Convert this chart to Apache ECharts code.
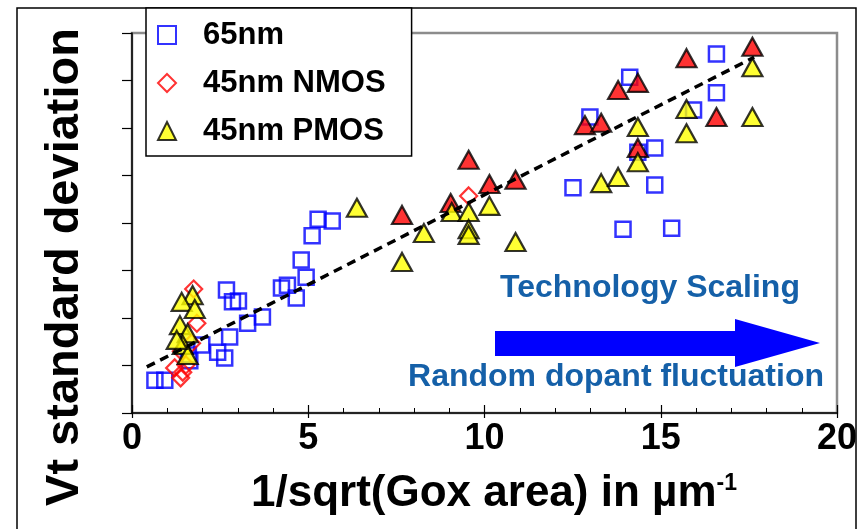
<!DOCTYPE html>
<html>
<head>
<meta charset="utf-8">
<script src="https://cdn.jsdelivr.net/npm/echarts@6/dist/echarts.min.js"></script>
<style>
  html, body { margin: 0; padding: 0; background: #fff; }
  #chart { width: 863px; height: 529px; }
</style>
</head>
<body>
<div id="chart"></div>
<script>
// values: [1/sqrt(area), sigma Vt (arbitrary units, 8 tick steps)]
const nm65 = [
  [0.65, 0.69], [0.93, 0.69], [1.64, 1.1], [1.6, 1.22], [1.98, 1.43], [2.43, 1.28], [2.63, 1.16],
  [2.77, 1.6], [2.68, 2.59], [2.85, 2.34], [3.02, 2.36], [3.28, 1.89], [3.7, 2.02],
  [4.24, 2.63], [4.41, 2.69], [4.66, 2.42], [4.94, 2.86], [4.8, 3.22], [5.11, 3.73],
  [5.28, 4.08], [5.68, 4.04], [12.51, 4.74], [13.93, 3.87], [15.31, 3.89], [14.83, 4.8],
  [14.35, 5.49], [14.83, 5.58], [12.99, 6.23], [14.12, 7.07], [16.58, 7.56], [16.58, 6.74],
  [15.93, 6.38]
];
const nmos45 = [
  [1.75, 2.61], [1.84, 1.89], [1.44, 0.86], [1.38, 0.74], [1.53, 1.01], [1.21, 0.95],
  [1.69, 1.47], [1.4, 1.3], [9.55, 4.57]
];
const pmos45 = [
  [1.72, 2.48], [1.41, 2.34], [1.78, 2.19], [1.36, 1.85], [1.58, 1.68], [1.44, 1.43],
  [1.58, 1.22], [1.27, 1.54], [6.38, 4.32], [7.66, 3.18], [8.28, 3.79], [9.07, 4.23],
  [9.55, 4.23], [9.55, 3.87], [9.55, 3.75], [10.14, 4.36], [10.88, 3.6], [13.31, 4.84],
  [13.79, 4.97], [14.35, 5.28], [14.35, 6.02], [15.73, 6.4], [15.73, 5.89], [17.6, 7.28],
  [17.6, 6.23]
];
// red-filled triangles (not in the legend)
const pmosRed = [
  [7.66, 4.17], [9.55, 5.33], [9.04, 4.42], [10.14, 4.82], [10.88, 4.91], [12.85, 6.06],
  [13.31, 6.11], [14.35, 5.58], [13.79, 6.8], [14.35, 6.95], [15.73, 7.47], [16.58, 6.23],
  [17.6, 7.71]
];
const trend = [[0.42, 0.97], [17.65, 7.49]];
const xTicks = [0, 5, 10, 15, 20];

const chart = echarts.init(document.getElementById('chart'));
const font = 'Liberation Sans, Arial, sans-serif';

chart.setOption({
  animation: false,
  grid: {
    left: 132, right: 26, top: 33, bottom: 116,
    show: true, borderColor: '#8c8c8c', borderWidth: 2.5,
    outerBoundsMode: 'none'
  },
  xAxis: [{
    type: 'value', min: xTicks[0], max: xTicks[xTicks.length - 1], interval: 5,
    splitLine: { show: false },
    axisLine: { onZero: false, lineStyle: { color: '#000', width: 1.5 } },
    axisTick: { inside: true, length: 8, lineStyle: { color: '#000', width: 1.2 } },
    minorTick: { show: true, splitNumber: 5, length: 5, lineStyle: { color: '#000', width: 1 } },
    axisLabel: { color: '#000', fontSize: 36, fontWeight: 'bold', fontFamily: font, margin: 8 }
  }, {
    type: 'value', min: 0, max: 20, interval: 5, position: 'bottom',
    axisLine: { show: false }, splitLine: { show: false }, axisLabel: { show: false },
    axisTick: { inside: false, length: 5, lineStyle: { color: '#000', width: 1.2 } }
  }],
  yAxis: {
    type: 'value', min: 0, max: 8, interval: 1,
    splitLine: { show: false },
    axisLine: { onZero: false, lineStyle: { color: '#000', width: 1.5 } },
    axisTick: { length: 10, lineStyle: { color: '#000', width: 1.2 } },
    axisLabel: { show: false }
  },
  legend: {
    data: ['65nm', '45nm NMOS', '45nm PMOS'],
    orient: 'vertical', left: 146, top: 8,
    itemWidth: 18, itemHeight: 18, itemGap: 16,
    padding: [11, 26, 9, 11],
    backgroundColor: '#fff', borderColor: '#000', borderWidth: 1.5, borderRadius: 0,
    textStyle: { fontSize: 31, fontWeight: 'bold', color: '#000', fontFamily: font, lineHeight: 32, padding: [0, 0, 0, 22] },
    z: 10
  },
  series: [
    {
      name: '65nm', type: 'scatter', data: nm65, symbol: 'rect', symbolSize: 15,
      itemStyle: { color: 'rgba(255,255,255,0)', borderColor: '#0000ff', borderWidth: 2.5 }, z: 2
    },
    {
      name: '45nm NMOS', type: 'scatter', data: nmos45, symbol: 'diamond', symbolSize: 17,
      itemStyle: { color: 'rgba(255,255,255,0)', borderColor: '#ff0000', borderWidth: 2.2 }, z: 3
    },
    {
      name: 'red', type: 'scatter', data: pmosRed, symbol: 'triangle', symbolSize: [20, 18],
      itemStyle: { color: '#ff0000', borderColor: '#000', borderWidth: 2.2 }, z: 4
    },
    {
      name: '45nm PMOS', type: 'scatter', data: pmos45, symbol: 'triangle', symbolSize: [20, 18],
      itemStyle: { color: '#ffff00', borderColor: '#000', borderWidth: 2.2 }, z: 5
    },
    {
      name: 'fit', type: 'line', data: trend, showSymbol: false, symbol: 'none',
      lineStyle: { color: '#000', width: 3.5, type: [9, 6] }, z: 6
    }
  ],
  graphic: [
    { type: 'rect', shape: { x: 17, y: 8, width: 839, height: 560 },
      style: { fill: 'none', stroke: '#000', lineWidth: 1.5 }, z: 0, silent: true },
    { type: 'text', x: 65, y: 267, rotation: Math.PI / 2,
      style: { text: 'Vt standard deviation', fill: '#000', font: 'bold 47px ' + font,
        textAlign: 'center', textVerticalAlign: 'middle' } },
    { type: 'text', x: 494, y: 494,
      style: { text: '1/sqrt(Gox area) in \u00b5m{sup|-1}', fill: '#000', font: 'bold 44px ' + font,
        textAlign: 'center', textVerticalAlign: 'middle',
        rich: { sup: { fontSize: 23, fontWeight: 'bold', fontFamily: font, verticalAlign: 'top', padding: [0, 0, 17, 0] } } } },
    { type: 'text', x: 650, y: 288,
      style: { text: 'Technology Scaling', fill: '#1560a8', font: 'bold 32px ' + font,
        textAlign: 'center', textVerticalAlign: 'middle' } },
    { type: 'polygon', shape: { points: [[495, 331], [735, 331], [735, 319], [820, 343], [735, 367], [735, 356], [495, 356]] },
      style: { fill: '#0000ff' } },
    { type: 'text', x: 616, y: 377,
      style: { text: 'Random dopant fluctuation', fill: '#1560a8', font: 'bold 32px ' + font,
        textAlign: 'center', textVerticalAlign: 'middle' } }
  ]
});
</script>
</body>
</html>
